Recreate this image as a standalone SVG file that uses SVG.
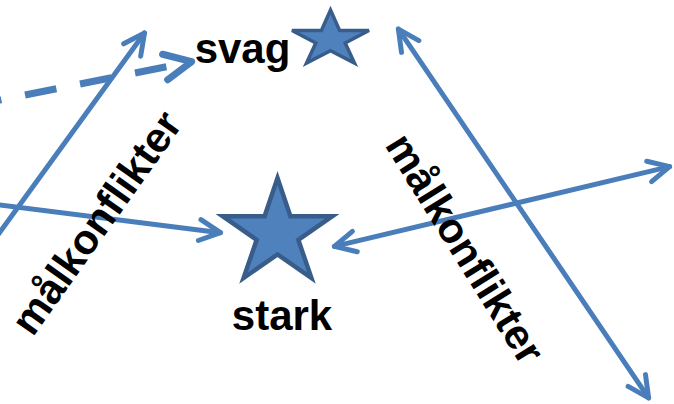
<svg xmlns="http://www.w3.org/2000/svg" width="674" height="404" viewBox="0 0 674 404">
  <style>
    .conn { fill: none; stroke: #4A7EBB; stroke-width: 5; stroke-linecap: round; }
    .dash { fill: none; stroke: #4A7EBB; stroke-width: 7; stroke-dasharray: 32 24.1; }
    .star { fill: #4F81BD; stroke: #385D8A; stroke-linejoin: miter; }
    .lbl { font-family: "Liberation Sans", Arial, sans-serif; font-weight: bold; font-size: 42px; fill: #000000; }
  </style>
  <defs>
    <marker id="ah" markerUnits="userSpaceOnUse" viewBox="-30 -15 36 30" markerWidth="36" markerHeight="30" refX="0" refY="0" orient="auto-start-reverse" overflow="visible">
      <path d="M-21,-10.5 L0,0 L-21,10.5" fill="none" stroke="#4A7EBB" stroke-width="5" stroke-linecap="round" stroke-linejoin="round"/>
    </marker>
    <marker id="ahd" markerUnits="userSpaceOnUse" viewBox="-40 -20 50 40" markerWidth="50" markerHeight="40" refX="0" refY="0" orient="auto" overflow="visible">
      <path d="M-27,-13 L0,0 L-27,13" fill="none" stroke="#4A7EBB" stroke-width="7" stroke-linecap="round" stroke-linejoin="round"/>
    </marker>
  </defs>

  <g id="connectors">
    <line class="dash" x1="-30" y1="106" x2="191.6" y2="61.7" marker-end="url(#ahd)"/>
    <line class="conn" x1="-5" y1="239" x2="144.5" y2="33" marker-end="url(#ah)"/>
    <line class="conn" x1="-5" y1="204.4" x2="220.5" y2="232.7" marker-end="url(#ah)"/>
    <line class="conn" x1="398.4" y1="29.1" x2="648.6" y2="397.9" marker-start="url(#ah)" marker-end="url(#ah)"/>
    <line class="conn" x1="669.6" y1="166.6" x2="334.4" y2="246.4" marker-start="url(#ah)" marker-end="url(#ah)"/>
  </g>

  <g id="node-svag">
    <polygon class="star" stroke-width="3.5" points="330.5,10 339.6,30.5 369,30.5 345.2,43 354.5,63 330.5,50.7 306.5,63 315.8,43 292,30.5 321.4,30.5"/>
    <text class="lbl" x="242.5" y="63" text-anchor="middle">svag</text>
  </g>

  <g id="node-stark">
    <polygon class="star" stroke-width="4.5" points="277.5,178 290.4,216.2 332.3,216.2 298.3,239.8 311.4,278 277.5,254.4 243.6,278 256.7,239.8 222.7,216.2 264.6,216.2"/>
    <text class="lbl" x="282" y="330" text-anchor="middle">stark</text>
  </g>

  <g id="label-left">
    <text class="lbl" text-anchor="middle" transform="translate(108,231) rotate(-54.8)">målkonflikter</text>
  </g>

  <g id="label-right">
    <text class="lbl" text-anchor="middle" transform="translate(453,256) rotate(58.2)">målkonflikter</text>
  </g>
</svg>
